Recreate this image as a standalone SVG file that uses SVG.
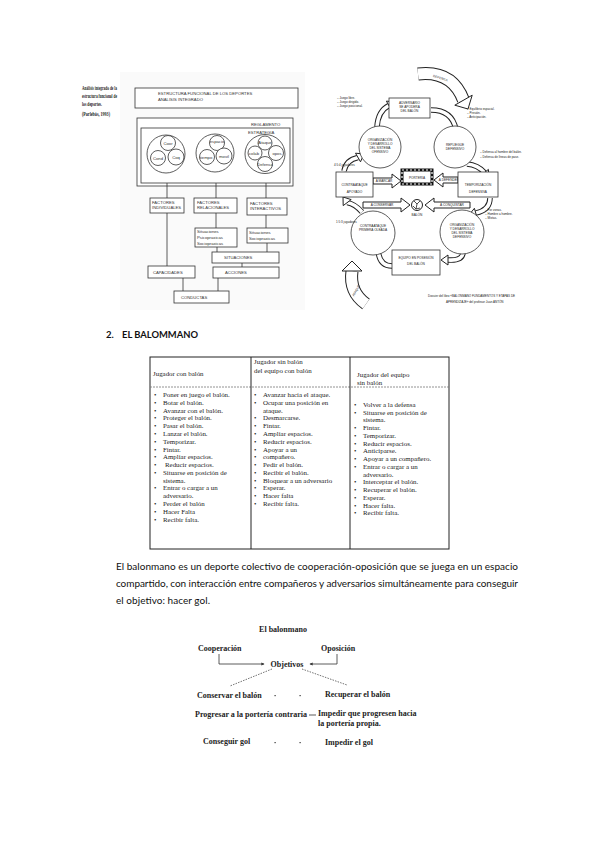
<svg xmlns="http://www.w3.org/2000/svg" width="599" height="848" viewBox="0 0 599 848">
<style>
.bg{fill:#fff}
.ln{fill:none;stroke:#333;stroke-width:0.8}
.bx{fill:#fff;stroke:#333;stroke-width:0.8}
.cp{font-family:"Liberation Sans",Arial,sans-serif;font-size:4.2px;fill:#333}
.cpm{font-family:"Liberation Sans",Arial,sans-serif;font-size:4.2px;fill:#333;text-anchor:middle}
.cap{font-family:"Liberation Serif","Times New Roman",serif;font-size:5.6px;font-weight:bold;fill:#222}
.tr{font-family:"Liberation Sans",Arial,sans-serif;font-size:3.2px;fill:#222;text-anchor:middle}
.trl{font-family:"Liberation Sans",Arial,sans-serif;font-size:3px;fill:#222}
.hb{fill:none;stroke:#222;stroke-width:5.5}
.hw{fill:none;stroke:#fff;stroke-width:3.6}
.hh{fill:#fff;stroke:#222;stroke-width:1}
.tb{fill:none;stroke:#222;stroke-width:1}
.tt{font-family:"Liberation Serif","Times New Roman",serif;font-size:6.9px;fill:#222}
.bu{font-family:"Liberation Serif","Times New Roman",serif;font-size:6.9px;fill:#222}
.h2{font-family:Lato,"Liberation Sans",sans-serif;font-size:9.5px;font-weight:bold;fill:#111}
.pa{font-family:Lato,"Liberation Sans",sans-serif;font-size:10px;fill:#111}
.bd{font-family:"Liberation Serif","Times New Roman",serif;font-size:8px;font-weight:bold;fill:#222}
.dl{fill:none;stroke:#333;stroke-width:0.7;stroke-dasharray:1.5 1.2}
</style>
<defs>
<marker id="ah" viewBox="0 0 6 6" refX="5" refY="3" markerWidth="4" markerHeight="4" orient="auto">
<path d="M0,0 L6,3 L0,6 z" fill="#333"/>
</marker>
</defs>
<rect class="bg" x="0" y="0" width="599" height="848"/>

<!-- Caption top-left -->
<g id="caption">
<text class="cap" x="82" y="90" textLength="35" lengthAdjust="spacingAndGlyphs">Análisis integrado de la</text>
<text class="cap" x="82" y="98" textLength="35" lengthAdjust="spacingAndGlyphs">estructura funcional de</text>
<text class="cap" x="82" y="106" textLength="20" lengthAdjust="spacingAndGlyphs">los deportes.</text>
<text class="cap" x="82" y="116" textLength="28" lengthAdjust="spacingAndGlyphs">(Parlebás, 1993)</text>
</g>

<!-- Left figure -->
<g id="fig-left">
<rect x="120" y="72" width="185" height="238" fill="#fafafa"/>
<g id="title-box">
<rect class="bx" x="135" y="88" width="163" height="20"/>
<text class="cp" x="158" y="95">ESTRUCTURA FUNCIONAL DE LOS DEPORTES</text>
<text class="cp" x="158" y="101">ANALISIS INTEGRADO</text>
</g>
<g id="reglamento">
<rect class="bx" x="137" y="118" width="156" height="68"/>
<rect class="bx" x="141" y="128" width="149" height="55"/>
<text class="cp" x="251" y="126">REGLAMENTO</text>
<text class="cp" x="248" y="134">ESTRATEGIA</text>
</g>
<g id="circ1">
<ellipse class="ln" cx="166" cy="154" rx="19" ry="19"/>
<circle class="bx" cx="168" cy="143" r="7.5"/>
<circle class="bx" cx="158" cy="158" r="7.5"/>
<circle class="bx" cx="176" cy="157" r="8"/>
<text class="cpm" x="168" y="145">Coor</text>
<text class="cpm" x="158" y="160">Cond</text>
<text class="cpm" x="176" y="159">Coq</text>
</g>
<g id="circ2">
<ellipse class="ln" cx="215" cy="153" rx="19" ry="19"/>
<circle class="bx" cx="217" cy="143" r="7.5"/>
<circle class="bx" cx="207" cy="157" r="7.5"/>
<circle class="bx" cx="224" cy="156" r="8"/>
<text class="cpm" x="217" y="143">espacio</text>
<text class="cpm" x="206" y="159">tiempo</text>
<text class="cpm" x="224" y="158">movil</text>
</g>
<g id="circ3">
<ellipse class="ln" cx="265" cy="154" rx="20" ry="19.5"/>
<circle class="bx" cx="265" cy="143" r="7"/>
<circle class="bx" cx="255" cy="153" r="7"/>
<circle class="bx" cx="276" cy="153" r="7.5"/>
<circle class="bx" cx="265" cy="164" r="7.5"/>
<text class="cpm" x="265" y="144">Ataque</text>
<text class="cpm" x="254" y="155">colab</text>
<text class="cpm" x="277" y="155">opos</text>
<text class="cpm" x="265" y="166">Defensa</text>
</g>
<g id="lines-left">
<path class="ln" d="M167,183 V198 M216,183 V198 M266,183 V198"/>
<path class="ln" d="M167,213 V266 M216,213 V228 M266,215 V228"/>
<path class="ln" d="M217,247 V252 M267,243 V252 M242,263 V267"/>
<path class="ln" d="M183,278 V291 M218,278 V291"/>
</g>
<g id="f-ind"><rect class="bx" x="150" y="198" width="34" height="15"/>
<text class="cp" x="152" y="204">FACTORES</text><text class="cp" x="152" y="209">INDIVIDUALES</text></g>
<g id="f-rel"><rect class="bx" x="194" y="198" width="43" height="15"/>
<text class="cp" x="197" y="204">FACTORES</text><text class="cp" x="197" y="209">RELACIONALES</text></g>
<g id="f-int"><rect class="bx" x="247" y="198" width="40" height="17"/>
<text class="cp" x="250" y="205">FACTORES</text><text class="cp" x="250" y="210">INTERACTIVOS</text></g>
<g id="s-psi"><rect class="bx" x="195" y="228" width="42" height="19"/>
<text class="cp" x="197" y="233">Situaciones</text><text class="cp" x="197" y="239">Psicopraxicas</text><text class="cp" x="197" y="245">Sociopraxicas</text></g>
<g id="s-soc"><rect class="bx" x="247" y="228" width="41" height="15"/>
<text class="cp" x="249" y="234">Situaciones</text><text class="cp" x="249" y="240">Sociopraxicas</text></g>
<g id="situaciones"><rect class="bx" x="212" y="252" width="67" height="11"/>
<text class="cp" x="224" y="259">SITUACIONES</text></g>
<g id="capacidades"><rect class="bx" x="148" y="266" width="47" height="12"/>
<text class="cp" x="153" y="273.5">CAPACIDADES</text></g>
<g id="acciones"><rect class="bx" x="213" y="267" width="66" height="11"/>
<text class="cp" x="225" y="274">ACCIONES</text></g>
<g id="conductas"><rect class="bx" x="174" y="291" width="55" height="12"/>
<text class="cp" x="181" y="298.5">CONDUCTAS</text></g>
</g>

<!-- Right figure -->
<g id="fig-right">
<g id="big-arrows">
<path d="M418,74 Q452,70 463.5,100.2" fill="none" stroke="#222" stroke-width="13"/>
<path d="M418,74 Q452,70 463.5,100.2" fill="none" stroke="#fff" stroke-width="11"/>
<polygon class="hh" points="468,109 472.2,95.2 454.8,105.2"/>
<text class="tr" transform="translate(440,79) rotate(18)">DEFENSA</text>
<path d="M366,304 Q349,292 352,271" fill="none" stroke="#222" stroke-width="13"/>
<path d="M366,304 Q349,292 352,271" fill="none" stroke="#fff" stroke-width="11"/>
<polygon class="hh" points="352,261 362,271 342,271"/>
<text class="tr" transform="translate(357,291) rotate(-62)">ATAQUE</text>
</g>
<g id="connectors-right">
<path class="hb" d="M377,127 Q378,111 388.9,105.5"/><path class="hw" d="M377,127 Q378,111 388.9,105.5"/>
<polygon class="hh" points="395,102 391.4,109.9 386.4,101.1"/>
<path class="hb" d="M431,110 Q452,110 455.9,129.3"/><path class="hw" d="M431,110 Q452,110 455.9,129.3"/>
<polygon class="hh" points="458,136 460.7,127.8 451.2,130.8"/>
<path class="hb" d="M467,164 Q478,165 484.5,172.6"/><path class="hw" d="M467,164 Q478,165 484.5,172.6"/>
<polygon class="hh" points="489,178 488.4,169.4 480.7,175.8"/>
<path class="hb" d="M490,198 Q490,210 475.7,213.1"/><path class="hw" d="M490,198 Q490,210 475.7,213.1"/>
<polygon class="hh" points="469,215 477.1,217.9 474.4,208.3"/>
<path class="hb" d="M463,253 Q462,261 448,260"/><path class="hw" d="M463,253 Q462,261 448,260"/>
<polygon class="hh" points="441,260 448,265 448,255"/>
<path class="hb" d="M392,266 Q378,266 378,247"/><path class="hw" d="M392,266 Q378,266 378,247"/>
<polygon class="hh" points="378,239 383,247 373,247"/>
<path class="hb" d="M362,212 Q355,204 347.2,202.6"/><path class="hw" d="M362,212 Q355,204 347.2,202.6"/>
<polygon class="hh" points="343,197 351.2,199.6 343.2,205.6"/>
<path class="hb" d="M344,171 Q346,160 358,157.5"/><path class="hw" d="M344,171 Q346,160 358,157.5"/>
<polygon class="hh" points="364,154 360.5,161.8 355.5,153.2"/>
<polygon class="hh" points="373,178 392,178 392,174 401,181 392,188 392,184 373,184"/>
<text class="tr" x="384" y="182.3">A MARCAR</text>
<polygon class="hh" points="458,177 443,177 443,173 434,180 443,187 443,183 458,183"/>
<text class="tr" x="449" y="181.3">A DEFENDER</text>
<polygon class="hh" points="363,202 401,202 401,198 410,205 401,212 401,208 363,208"/>
<text class="tr" x="382" y="206.2">A CONSERVAR</text>
<polygon class="hh" points="470,202 434,202 434,198 425,205 434,212 434,208 470,208"/>
<text class="tr" x="452" y="206.2">A CONQUISTAR</text>
</g>
<g id="n-adversario"><rect class="bx" x="389" y="98" width="41" height="20"/>
<text class="tr" x="409.5" y="104">ADVERSARIO</text><text class="tr" x="409.5" y="108">SE APODERA</text><text class="tr" x="409.5" y="112">DEL BALÓN</text></g>
<g id="n-org-of"><circle class="bx" cx="380" cy="147" r="21"/>
<text class="tr" x="380" y="141">ORGANIZACIÓN</text><text class="tr" x="380" y="145">Y DESARROLLO</text><text class="tr" x="380" y="149">DEL SISTEMA</text><text class="tr" x="380" y="153">OFENSIVO</text></g>
<g id="n-repliegue"><circle class="bx" cx="455" cy="147" r="21"/>
<text class="tr" x="455" y="146">REPLIEGUE</text><text class="tr" x="455" y="150">DEFENSIVO</text></g>
<g id="n-ca-apoyado"><rect class="bx" x="336" y="172" width="37" height="25"/>
<text class="tr" x="354.5" y="186">CONTRAATAQUE</text><text class="tr" x="354.5" y="193">APOYADO</text></g>
<g id="n-porteria"><rect x="402" y="170" width="30" height="14" fill="#fff" stroke="#111" stroke-width="3"/>
<rect x="402" y="170" width="30" height="14" fill="none" stroke="#fff" stroke-width="1.2" stroke-dasharray="2 2"/>
<text class="tr" x="417" y="178.5">PORTERÍA</text></g>
<g id="n-temporizacion"><rect class="bx" x="458" y="172" width="40" height="25"/>
<text class="tr" x="478" y="186">TEMPORIZACIÓN</text><text class="tr" x="478" y="193">DEFENSIVA</text></g>
<g id="n-balon"><circle cx="417" cy="205" r="5.5" fill="#fff" stroke="#222" stroke-width="1"/>
<path d="M414,201 L417,204 L420,201 M417,204 L416,209 M413,206 L416,209 L420,208" fill="none" stroke="#222" stroke-width="0.8"/>
<text class="tr" x="417" y="216">BALÓN</text></g>
<g id="n-ca-primera"><circle class="bx" cx="373" cy="233" r="22"/>
<text class="tr" x="373" y="227">CONTRAATAQUE</text><text class="tr" x="373" y="231">PRIMERA OLEADA</text></g>
<g id="n-org-def"><circle class="bx" cx="462" cy="232" r="22"/>
<text class="tr" x="462" y="226">ORGANIZACIÓN</text><text class="tr" x="462" y="230">Y DESARROLLO</text><text class="tr" x="462" y="234">DEL SISTEMA</text><text class="tr" x="462" y="238">DEFENSIVO</text></g>
<g id="n-equipo"><rect class="bx" x="392" y="250" width="48" height="25"/>
<text class="tr" x="416" y="259">EQUIPO EN POSESIÓN</text><text class="tr" x="416" y="265">DEL BALÓN</text></g>
<g id="notes">
<text class="trl" x="337" y="99">– Juego libre.</text><text class="trl" x="337" y="103">– Juego dirigido.</text><text class="trl" x="337" y="107">– Juego posicional.</text>
<text class="trl" x="467" y="110">– Equilibrio espacial.</text><text class="trl" x="467" y="114">– Presión.</text><text class="trl" x="467" y="118">– Anticipación.</text>
<text class="trl" x="480" y="153">– Defensa al hombre del balón.</text><text class="trl" x="480" y="157.5">– Defensa de líneas de pase.</text>
<text class="trl" x="485" y="211">– Por zonas.</text><text class="trl" x="485" y="215">– Hombre a hombre.</text><text class="trl" x="485" y="219">– Mixtas.</text>
<text class="trl" x="334" y="166">4:5:4 jugadores</text>
<text class="trl" x="336" y="223">1:5:3 jugadores</text>
<text class="trl" x="428" y="297">Dossier del libro «BALONMANO FUNDAMENTOS Y ETAPAS DE</text>
<text class="trl" x="446" y="303">APRENDIZAJE» del profesor Juan ANTÓN</text>
</g>
</g>

<!-- Heading -->
<g id="heading">
<text class="h2" x="106" y="338">2.</text>
<text class="h2" x="122" y="338" textLength="76" lengthAdjust="spacingAndGlyphs">EL BALOMMANO</text>
</g>

<!-- Table -->
<g id="table">
<rect class="tb" x="150" y="357" width="299" height="192"/>
<line x1="150" y1="387" x2="449" y2="387" stroke="#777" stroke-width="0.8" stroke-dasharray="2 1"/>
<line class="tb" x1="251" y1="357" x2="251" y2="549"/>
<line class="tb" x1="350" y1="357" x2="350" y2="549"/>
<text class="tt" x="153" y="376">Jugador con balón</text>
<text class="tt" x="254" y="364">Jugador sin balón</text>
<text class="tt" x="254" y="372.5">del equipo con balón</text>
<text class="tt" x="357" y="377">Jugador del equipo</text>
<text class="tt" x="357" y="385">sin balón</text>
<g id="col1">
<text class="bu" x="154" y="397">•</text><text class="tt" x="163" y="397">Poner en juego el balón.</text>
<text class="bu" x="154" y="404.8">•</text><text class="tt" x="163" y="404.8">Botar el balón.</text>
<text class="bu" x="154" y="412.6">•</text><text class="tt" x="163" y="412.6">Avanzar con el balón.</text>
<text class="bu" x="154" y="420.3">•</text><text class="tt" x="163" y="420.3">Proteger el balón.</text>
<text class="bu" x="154" y="428.1">•</text><text class="tt" x="163" y="428.1">Pasar el balón.</text>
<text class="bu" x="154" y="435.9">•</text><text class="tt" x="163" y="435.9">Lanzar el balón.</text>
<text class="bu" x="154" y="443.7">•</text><text class="tt" x="163" y="443.7">Temporizar.</text>
<text class="bu" x="154" y="451.5">•</text><text class="tt" x="163" y="451.5">Fintar.</text>
<text class="bu" x="154" y="459.2">•</text><text class="tt" x="163" y="459.2">Ampliar espacios.</text>
<text class="bu" x="154" y="467">•</text><text class="tt" x="165" y="467">Reducir espacios.</text>
<text class="bu" x="154" y="474.8">•</text><text class="tt" x="163" y="474.8">Situarse en posición de</text>
<text class="tt" x="163" y="482.6">sistema.</text>
<text class="bu" x="154" y="490.3">•</text><text class="tt" x="163" y="490.3">Entrar o cargar a un</text>
<text class="tt" x="163" y="498.1">adversario.</text>
<text class="bu" x="154" y="505.9">•</text><text class="tt" x="163" y="505.9">Perder el balón</text>
<text class="bu" x="154" y="513.7">•</text><text class="tt" x="163" y="513.7">Hacer Falta</text>
<text class="bu" x="154" y="521.5">•</text><text class="tt" x="163" y="521.5">Recibir falta.</text>
</g>
<g id="col2">
<text class="bu" x="254" y="397">•</text><text class="tt" x="263" y="397">Avanzar hacia el ataque.</text>
<text class="bu" x="254" y="404.8">•</text><text class="tt" x="263" y="404.8">Ocupar una posición en</text>
<text class="tt" x="263" y="412.6">ataque.</text>
<text class="bu" x="254" y="420.3">•</text><text class="tt" x="263" y="420.3">Desmarcarse.</text>
<text class="bu" x="254" y="428.1">•</text><text class="tt" x="263" y="428.1">Fintar.</text>
<text class="bu" x="254" y="435.9">•</text><text class="tt" x="263" y="435.9">Ampliar espacios.</text>
<text class="bu" x="254" y="443.7">•</text><text class="tt" x="263" y="443.7">Reducir espacios.</text>
<text class="bu" x="254" y="451.5">•</text><text class="tt" x="263" y="451.5">Apoyar a un</text>
<text class="bu" x="254" y="459.2">•</text><text class="tt" x="263" y="459.2">compañero.</text>
<text class="bu" x="254" y="467">•</text><text class="tt" x="263" y="467">Pedir el balón.</text>
<text class="bu" x="254" y="474.8">•</text><text class="tt" x="263" y="474.8">Recibir el balón.</text>
<text class="bu" x="254" y="482.6">•</text><text class="tt" x="263" y="482.6">Bloquear a un adversario</text>
<text class="bu" x="254" y="490.3">•</text><text class="tt" x="263" y="490.3">Esperar.</text>
<text class="bu" x="254" y="498.1">•</text><text class="tt" x="263" y="498.1">Hacer falta</text>
<text class="bu" x="254" y="505.9">•</text><text class="tt" x="263" y="505.9">Recibir falta.</text>
</g>
<g id="col3">
<text class="bu" x="354" y="406.7">•</text><text class="tt" x="363" y="406.7">Volver a la defensa</text>
<text class="bu" x="354" y="414.5">•</text><text class="tt" x="363" y="414.5">Situarse en posición de</text>
<text class="tt" x="363" y="422.2">sistema.</text>
<text class="bu" x="354" y="430">•</text><text class="tt" x="363" y="430">Fintar.</text>
<text class="bu" x="354" y="437.7">•</text><text class="tt" x="363" y="437.7">Temporizar.</text>
<text class="bu" x="354" y="445.5">•</text><text class="tt" x="363" y="445.5">Reducir espacios.</text>
<text class="bu" x="354" y="453.2">•</text><text class="tt" x="363" y="453.2">Anticiparse.</text>
<text class="bu" x="354" y="461">•</text><text class="tt" x="363" y="461">Apoyar a un compañero.</text>
<text class="bu" x="354" y="468.7">•</text><text class="tt" x="363" y="468.7">Entrar o cargar a un</text>
<text class="tt" x="363" y="476.5">adversario.</text>
<text class="bu" x="354" y="484.2">•</text><text class="tt" x="363" y="484.2">Interceptar el balón.</text>
<text class="bu" x="354" y="492">•</text><text class="tt" x="363" y="492">Recuperar el balón.</text>
<text class="bu" x="354" y="499.7">•</text><text class="tt" x="363" y="499.7">Esperar.</text>
<text class="bu" x="354" y="507.5">•</text><text class="tt" x="363" y="507.5">Hacer falta.</text>
<text class="bu" x="354" y="515.2">•</text><text class="tt" x="363" y="515.2">Recibir falta.</text>
</g>
</g>

<!-- Paragraph -->
<g id="paragraph">
<text class="pa" x="116" y="570" textLength="402" lengthAdjust="spacing">El balonmano es un deporte colectivo de cooperación-oposición que se juega en un espacio</text>
<text class="pa" x="116" y="587" textLength="402" lengthAdjust="spacing">compartido, con interacción entre compañeros y adversarios simultáneamente para conseguir</text>
<text class="pa" x="116" y="604" textLength="94" lengthAdjust="spacing">el objetivo: hacer gol.</text>
</g>

<!-- Bottom diagram -->
<g id="bottom-diagram">
<g id="connectors">
<path class="ln" d="M219,654 V664 H264" marker-end="url(#ah)"/>
<path class="ln" d="M337,654 V664 H310" marker-end="url(#ah)"/>
<path class="dl" d="M272,669 L230,686"/>
<path class="dl" d="M302,669 L347,685"/>
<line class="ln" x1="309" y1="715" x2="316" y2="715"/>
<rect x="274.5" y="695" width="1.2" height="1.2" fill="#333"/>
<rect x="299.5" y="695" width="1.2" height="1.2" fill="#333"/>
<rect x="274.5" y="742" width="1.2" height="1.2" fill="#333"/>
<rect x="299.5" y="742" width="1.2" height="1.2" fill="#333"/>
</g>
<g id="b-title"><text class="bd" x="283" y="632" text-anchor="middle">El balonmano</text></g>
<g id="b-coop"><text class="bd" x="198" y="651">Cooperación</text></g>
<g id="b-opos"><text class="bd" x="321" y="651">Oposición</text></g>
<g id="b-obj"><text class="bd" x="287" y="667" text-anchor="middle">Objetivos</text></g>
<g id="b-cons"><text class="bd" x="197" y="698">Conservar el balón</text></g>
<g id="b-recu"><text class="bd" x="325" y="697">Recuperar el balón</text></g>
<g id="b-prog"><text class="bd" x="307" y="717" text-anchor="end">Progresar a la portería contraria</text></g>
<g id="b-imp"><text class="bd" x="318" y="716">Impedir que progresen hacia</text><text class="bd" x="318" y="726">la portería propia.</text></g>
<g id="b-gol"><text class="bd" x="203" y="744">Conseguir gol</text></g>
<g id="b-impgol"><text class="bd" x="325" y="745">Impedir el gol</text></g>
</g>
</svg>
